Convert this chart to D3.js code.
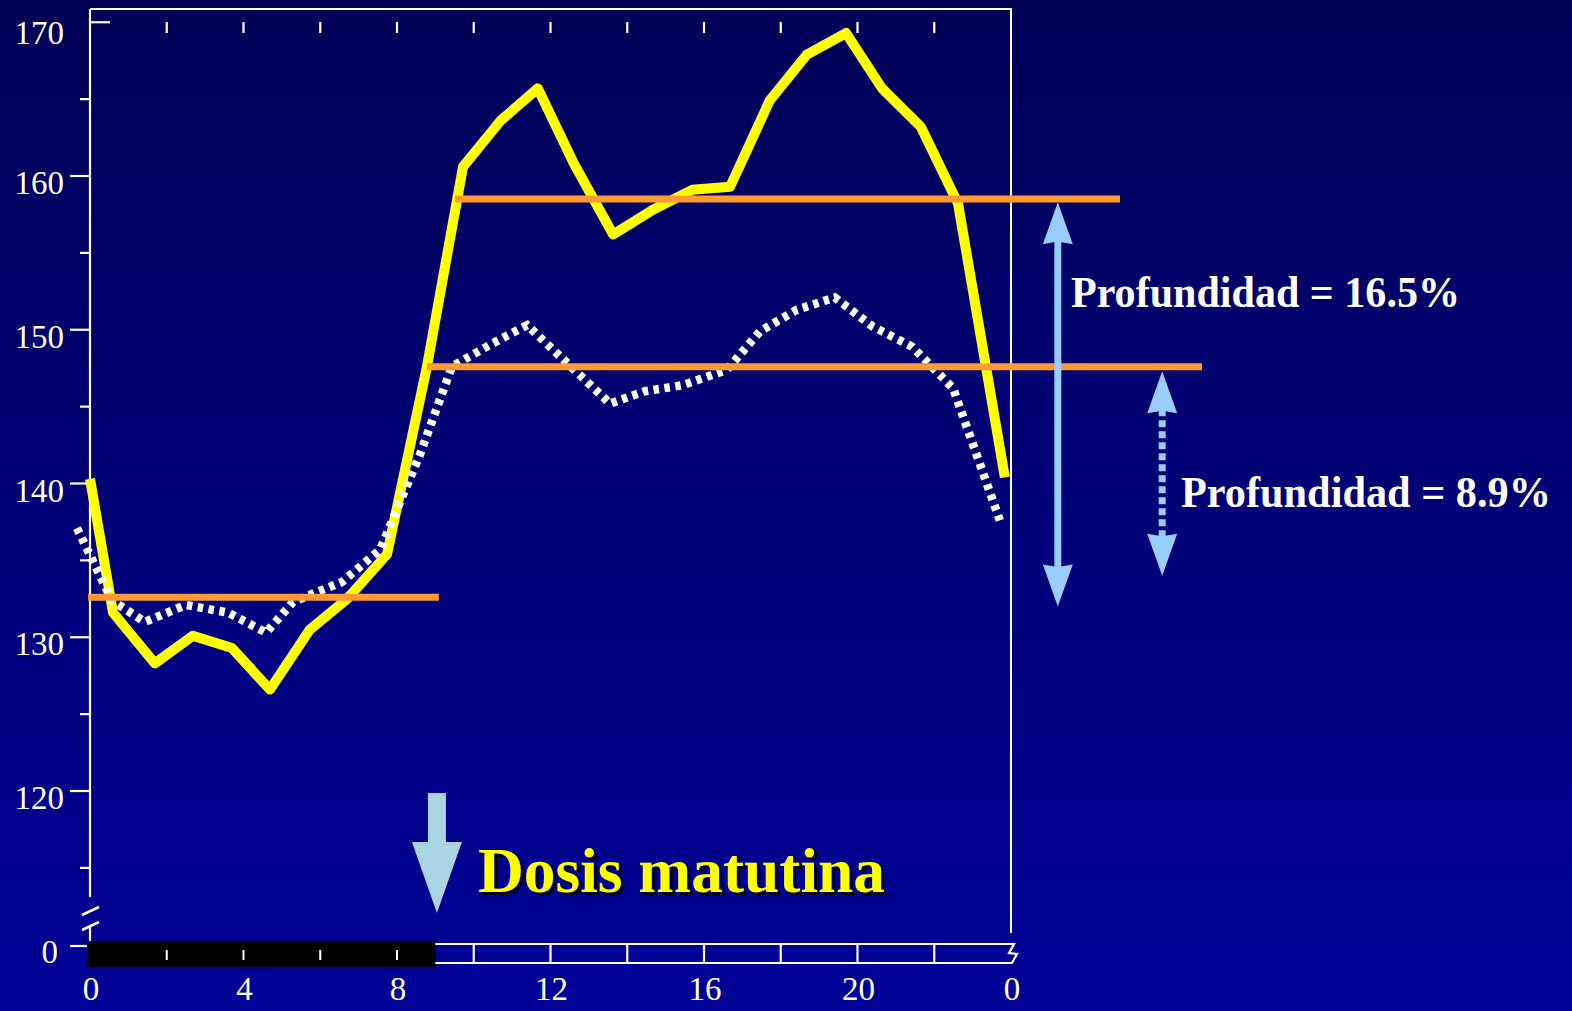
<!DOCTYPE html>
<html>
<head>
<meta charset="utf-8">
<script src="https://cdn.jsdelivr.net/npm/d3@7/dist/d3.min.js"></script>
<style>
  html, body { margin: 0; padding: 0; background: #000070; }
  svg { display: block; }
</style>
</head>
<body>
<svg id="chart" width="1572" height="1011"></svg>
<script>
// ---------- data (hours of day, systolic BP) ----------
const yellowHours  = [0, 0.6, 1.69, 2.68, 3.7, 4.69, 5.73, 6.7, 7.74, 8.78, 9.72, 10.7, 11.67, 12.61, 13.63, 14.67, 15.69, 16.68, 17.71, 18.68, 19.7, 20.64, 21.65, 22.62, 23.84];
const yellowValues = [140.3, 131.6, 128.3, 130.1, 129.3, 126.6, 130.5, 132.5, 135.4, 147.6, 160.6, 163.6, 165.7, 160.8, 156.2, 157.8, 159.1, 159.3, 164.9, 167.9, 169.3, 165.7, 163.2, 158.2, 140.4];

const whiteHours  = [-0.34, 0.57, 1.43, 2.5, 3.6, 4.59, 5.29, 6.57, 7.56, 8.6, 9.43, 10.48, 11.39, 13.55, 14.46, 15.45, 16.6, 17.46, 18.42, 19.41, 20.4, 21.42, 22.49, 23.71];
const whiteValues = [137.1, 132.4, 131.0, 132.1, 131.6, 130.3, 132.3, 133.6, 135.7, 141.9, 147.6, 149.1, 150.3, 145.2, 146.0, 146.4, 147.4, 149.9, 151.3, 152.1, 150.2, 148.9, 146.2, 137.6];

// mean levels: start hour, end hour, value
const meanStart  = [-0.05, 9.51, 8.78];
const meanEnd    = [9.09, 26.84, 28.98];
const meanValues = [132.6, 158.5, 147.6];

const yMajorTicks = [120, 130, 140, 150, 160, 170];
const yMinorTicks = [115, 125, 135, 145, 155, 165];
const xLabelHours = [0, 4, 8, 12, 16, 20, 24];
const xTickLabels = ["0", "4", "8", "12", "16", "20", "0"];
const gridHours   = [2, 4, 6, 8, 10, 12, 14, 16, 18, 20, 22];
const nightHours  = [0, 9];

const depthLabels  = ["Profundidad = 16.5%", "Profundidad = 8.9%"];
const depthHours   = [25.22, 27.94];
const depthFrom    = [158.3, 147.3];
const depthTo      = [132.0, 134.0];
const doseLabel    = "Dosis matutina";
const doseHour     = 9.04;

// ---------- layout ----------
const svg = d3.select("#chart");
const W = 1572, H = 1011;
const FONT = "'Liberation Serif', 'Times New Roman', serif";

const x = d3.scaleLinear().domain([0, 24]).range([90, 1011]);
const y = d3.scaleLinear().domain([120, 170]).range([791, 22.25]);
const frameTop = 9, axisBottom = 897, zeroY = 946;
const bandTop = 944, bandBot = 963;

// background gradient
const defs = svg.append("defs");
const grad = defs.append("linearGradient").attr("id", "bg").attr("x1", 0).attr("y1", 0).attr("x2", 0).attr("y2", 1);
grad.append("stop").attr("offset", "0%").attr("stop-color", "#000056");
grad.append("stop").attr("offset", "100%").attr("stop-color", "#000098");
svg.append("rect").attr("width", W).attr("height", H).attr("fill", "url(#bg)");

const white = "#ffffff";
const g = svg.append("g");

// frame: top & right
g.append("path")
  .attr("d", `M${x(0)},${frameTop} L${x(24)},${frameTop} L${x(24)},933`)
  .attr("fill", "none").attr("stroke", white).attr("stroke-width", 2);

// left axis line (upper part)
g.append("line").attr("x1", x(0)).attr("x2", x(0)).attr("y1", frameTop).attr("y2", axisBottom)
  .attr("stroke", white).attr("stroke-width", 2.2);

// major ticks (170 inward)
yMajorTicks.forEach(v => {
  const inward = v === 170;
  g.append("line")
    .attr("x1", inward ? x(0) : x(0) - 20).attr("x2", inward ? x(0) + 20 : x(0))
    .attr("y1", y(v)).attr("y2", y(v)).attr("stroke", white).attr("stroke-width", 2.2);
  g.append("text").attr("x", 64).attr("y", y(v) + (inward ? 22 : 18))
    .attr("text-anchor", "end").attr("fill", white)
    .attr("font-family", FONT).attr("font-size", 33).text(String(v));
});
yMinorTicks.forEach(v => {
  g.append("line").attr("x1", x(0) - 10).attr("x2", x(0))
    .attr("y1", y(v)).attr("y2", y(v)).attr("stroke", white).attr("stroke-width", 2.2);
});

// axis break and zero
g.append("line").attr("x1", 82).attr("y1", 915).attr("x2", 99).attr("y2", 907).attr("stroke", white).attr("stroke-width", 2.5);
g.append("line").attr("x1", 82).attr("y1", 930).attr("x2", 99).attr("y2", 922).attr("stroke", white).attr("stroke-width", 2.5);
g.append("line").attr("x1", x(0)).attr("x2", x(0)).attr("y1", 926).attr("y2", zeroY).attr("stroke", white).attr("stroke-width", 2.2);
g.append("line").attr("x1", 70).attr("x2", x(0)).attr("y1", zeroY).attr("y2", zeroY).attr("stroke", white).attr("stroke-width", 2.2);
g.append("text").attr("x", 58).attr("y", zeroY + 17).attr("text-anchor", "end").attr("fill", white)
  .attr("font-family", FONT).attr("font-size", 33).text("0");

// top inner ticks
gridHours.forEach(h => {
  g.append("line").attr("x1", x(h)).attr("x2", x(h)).attr("y1", 22).attr("y2", 33)
    .attr("stroke", white).attr("stroke-width", 2.2);
});

// bottom time band
g.append("path")
  .attr("d", `M${x(0)},${bandTop} L${x(24) + 3},${bandTop} L${x(24) - 2},${bandTop + 9} L${x(24) + 6},${bandTop + 10} L${x(24) + 1},${bandBot} L${x(0)},${bandBot}`)
  .attr("fill", "none").attr("stroke", white).attr("stroke-width", 2.2);
gridHours.filter(h => h > nightHours[1]).forEach(h => {
  g.append("line").attr("x1", x(h)).attr("x2", x(h)).attr("y1", bandTop).attr("y2", bandBot)
    .attr("stroke", white).attr("stroke-width", 2.2);
});
g.append("rect").attr("x", x(nightHours[0]) - 3).attr("y", 941)
  .attr("width", x(nightHours[1]) - x(nightHours[0]) + 3).attr("height", 26).attr("fill", "#000000");
gridHours.filter(h => h < nightHours[1]).forEach(h => {
  g.append("line").attr("x1", x(h)).attr("x2", x(h)).attr("y1", 950).attr("y2", 960)
    .attr("stroke", white).attr("stroke-width", 2);
});

// x labels
xLabelHours.forEach((h, i) => {
  g.append("text").attr("x", x(h) + 1).attr("y", 1000).attr("text-anchor", "middle").attr("fill", white)
    .attr("font-family", FONT).attr("font-size", 33).text(xTickLabels[i]);
});

// ---------- series ----------
const line = d3.line().x(d => x(d[0])).y(d => y(d[1]));
const yellowData = yellowHours.map((h, i) => [h, yellowValues[i]]);
const whiteData = whiteHours.map((h, i) => [h, whiteValues[i]]);

g.append("path").datum(yellowData).attr("d", line)
  .attr("fill", "none").attr("stroke", "#ffff00").attr("stroke-width", 10)
  .attr("stroke-linejoin", "round").attr("stroke-linecap", "butt");

g.append("path").datum(whiteData).attr("d", line)
  .attr("fill", "none").attr("stroke", white).attr("stroke-width", 8.5)
  .attr("stroke-dasharray", "5.5,5.5").attr("stroke-linejoin", "miter");

// mean lines
meanValues.forEach((v, i) => {
  g.append("line").attr("x1", x(meanStart[i])).attr("x2", x(meanEnd[i]))
    .attr("y1", y(v)).attr("y2", y(v))
    .attr("stroke", "#ff9933").attr("stroke-width", 7);
});

// ---------- depth arrows ----------
const arrowColor = "#99ccff";
function arrowHead(cx, tipY, baseY) {
  const hw = 15;
  const notch = (baseY - tipY) * 0.06;
  return `M${cx},${tipY} L${cx + hw},${baseY} L${cx},${baseY - notch} L${cx - hw},${baseY} Z`;
}
depthHours.forEach((h, i) => {
  const cx = x(h), y0 = y(depthFrom[i]), y1 = y(depthTo[i]);
  const hl = 42;
  g.append("line").attr("x1", cx).attr("x2", cx).attr("y1", y0 + hl - 4).attr("y2", y1 - hl + 4)
    .attr("stroke", arrowColor).attr("stroke-width", 7)
    .attr("stroke-dasharray", i === 1 ? "7,4" : null);
  g.append("path").attr("d", arrowHead(cx, y0, y0 + hl)).attr("fill", arrowColor);
  g.append("path").attr("d", arrowHead(cx, y1, y1 - hl)).attr("fill", arrowColor);
});
g.append("text").attr("x", 1071).attr("y", 307).attr("fill", white)
  .attr("font-family", FONT).attr("font-weight", "bold").attr("font-size", 44)
  .attr("textLength", 389).attr("lengthAdjust", "spacingAndGlyphs").text(depthLabels[0]);
g.append("text").attr("x", 1181).attr("y", 507).attr("fill", white)
  .attr("font-family", FONT).attr("font-weight", "bold").attr("font-size", 44)
  .attr("textLength", 370).attr("lengthAdjust", "spacingAndGlyphs").text(depthLabels[1]);

// ---------- morning dose ----------
const dx = x(doseHour);
g.append("path")
  .attr("d", `M${dx - 9},793 L${dx + 9},793 L${dx + 9},842 L${dx + 25},842 L${dx},913 L${dx - 25},842 L${dx - 9},842 Z`)
  .attr("fill", "#a9d4e2");
g.append("text").attr("x", 481).attr("y", 895).attr("fill", "#000000")
  .attr("font-family", FONT).attr("font-weight", "bold").attr("font-size", 64)
  .attr("textLength", 407).attr("lengthAdjust", "spacingAndGlyphs").text(doseLabel);
g.append("text").attr("x", 478).attr("y", 892).attr("fill", "#ffff00")
  .attr("font-family", FONT).attr("font-weight", "bold").attr("font-size", 64)
  .attr("textLength", 407).attr("lengthAdjust", "spacingAndGlyphs").text(doseLabel);
</script>
</body>
</html>
